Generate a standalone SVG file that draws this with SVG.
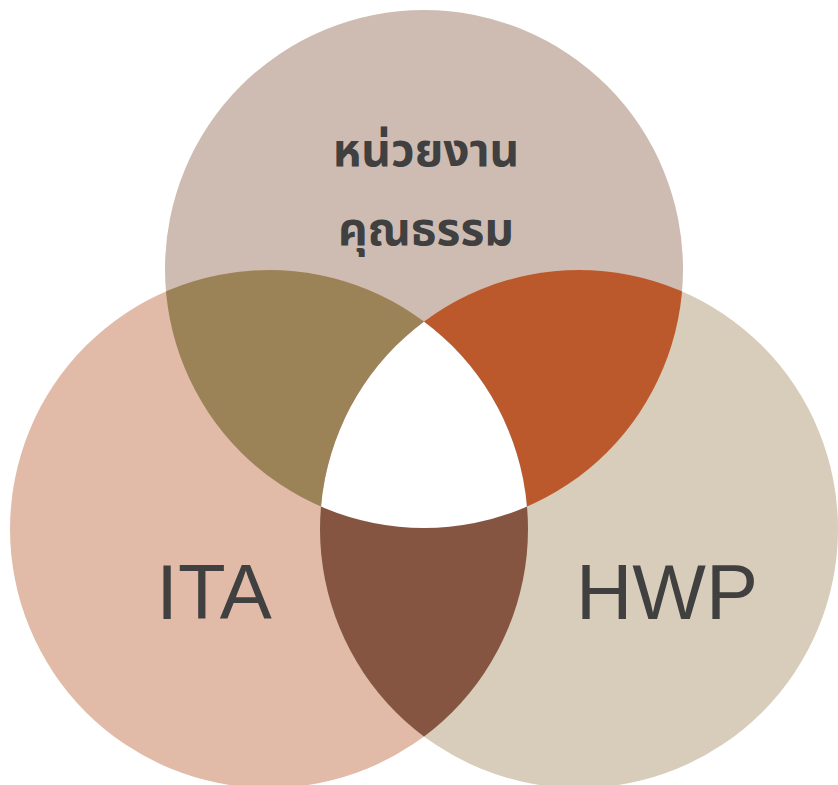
<svg xmlns="http://www.w3.org/2000/svg" width="838" height="785" viewBox="0 0 838 785">
<style>
.lbl{fill:#404040;font-family:"Liberation Sans",Arial,sans-serif;}
.th{fill:#404040;font-family:"Noto Sans","Noto Sans Thai","Noto Sans CJK SC",sans-serif;font-weight:bold;font-size:46px;}
</style>
<defs>
<clipPath id="cTop"><circle cx="424" cy="269" r="259"/></clipPath>
<clipPath id="cLeft"><circle cx="269" cy="529" r="259"/></clipPath>
<clipPath id="cRight"><circle cx="579" cy="529" r="259"/></clipPath>
</defs>
<rect width="838" height="785" fill="#ffffff"/>
<g id="circle-top"><circle cx="424" cy="269" r="259" fill="#CEBCB2"/></g>
<g id="circle-left"><circle cx="269" cy="529" r="259" fill="#E2BBA8"/></g>
<g id="circle-right"><circle cx="579" cy="529" r="259" fill="#D7CDBA"/></g>
<g id="overlap-top-left" clip-path="url(#cTop)"><circle cx="269" cy="529" r="259" fill="#9B8257"/></g>
<g id="overlap-top-right" clip-path="url(#cTop)"><circle cx="579" cy="529" r="259" fill="#BC592C"/></g>
<g id="overlap-left-right" clip-path="url(#cLeft)"><circle cx="579" cy="529" r="259" fill="#855541"/></g>
<g id="overlap-center" clip-path="url(#cTop)"><g clip-path="url(#cLeft)"><circle cx="579" cy="529" r="259" fill="#ffffff"/></g></g>
<g id="label-top">
<text class="th" x="426" y="166" text-anchor="middle">หน่วยงาน</text>
<text class="th" x="426" y="245" text-anchor="middle">คุณธรรม</text>
</g>
<g id="label-ita"><text class="lbl" x="214" y="619" font-size="78" text-anchor="middle">ITA</text></g>
<g id="label-hwp"><text class="lbl" x="667" y="619" font-size="78" text-anchor="middle">HWP</text></g>
</svg>
